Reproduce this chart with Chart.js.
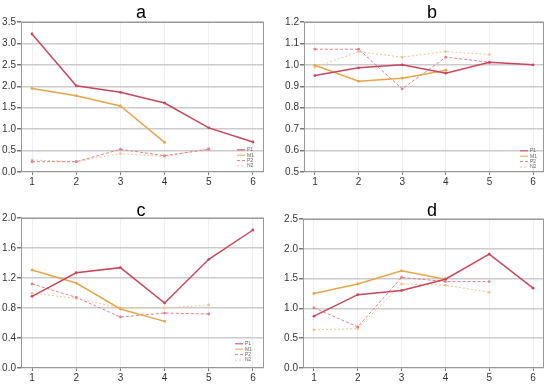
<!DOCTYPE html>
<html>
<head>
<meta charset="utf-8">
<script src="https://cdn.jsdelivr.net/npm/chart.js@4.4.0/dist/chart.umd.min.js"></script>
<style>
body { margin: 0; background: #fff; }
#wrap { position: relative; width: 550px; height: 385px; overflow: hidden; }
canvas { position: absolute; }
.ttl { position: absolute; width: 40px; text-align: center; font: 18px "Liberation Sans", Arial, sans-serif; line-height: 20px; color: #000; }
</style>
</head>
<body>
<div id="wrap">
  <canvas id="chartA" width="275" height="190" style="left:0;top:0"></canvas>
  <canvas id="chartB" width="275" height="190" style="left:275px;top:0"></canvas>
  <canvas id="chartC" width="275" height="195" style="left:0;top:190px"></canvas>
  <canvas id="chartD" width="275" height="195" style="left:275px;top:190px"></canvas>
  <div class="ttl" style="left:121px;top:2px">a</div>
  <div class="ttl" style="left:412px;top:2px">b</div>
  <div class="ttl" style="left:121px;top:200px">c</div>
  <div class="ttl" style="left:412px;top:200px">d</div>
</div>
<script>
//x positions shared by every panel
const xValues = [1, 2, 3, 4, 5, 6];
const seriesNames = ['P1', 'M1', 'P2', 'N2'];

//Panel a
const aP1 = [3.22, 2.01, 1.86, 1.61, 1.03, 0.70];
const aM1 = [1.95, 1.78, 1.54, 0.69];
const aP2 = [0.24, 0.24, 0.53, 0.38, 0.53];
const aN2 = [0.28, 0.24, 0.43, 0.36, 0.55];
const aTicks = [0, 0.5, 1.0, 1.5, 2.0, 2.5, 3.0, 3.5];

//Panel b
const bP1 = [0.95, 0.986, 1.0, 0.961, 1.012, 1.0];
const bM1 = [0.998, 0.924, 0.938, 0.975];
const bP2 = [1.073, 1.073, 0.888, 1.036, 1.012];
const bN2 = [0.989, 1.061, 1.036, 1.062, 1.048];
const bTicks = [0.5, 0.6, 0.7, 0.8, 0.9, 1.0, 1.1, 1.2];

//Panel c
const cP1 = [0.956, 1.27, 1.338, 0.867, 1.449, 1.84];
const cM1 = [1.307, 1.133, 0.787, 0.622];
const cP2 = [1.12, 0.942, 0.68, 0.733, 0.72];
const cN2 = [0.996, 0.929, 0.8, 0.8, 0.84];
const cTicks = [0, 0.4, 0.8, 1.2, 1.6, 2.0];

//Panel d
const dP1 = [0.87, 1.23, 1.30, 1.49, 1.91, 1.34];
const dM1 = [1.25, 1.41, 1.63, 1.49];
const dP2 = [1.01, 0.69, 1.52, 1.45, 1.45];
const dN2 = [0.64, 0.66, 1.41, 1.39, 1.27];
const dTicks = [0, 0.5, 1.0, 1.5, 2.0, 2.5];

const FONT = '"Liberation Sans", Arial, sans-serif';
const seriesStyle = [
    { color: '#c9475c', width: 1.5, dash: [] },
    { color: '#e5a64a', width: 1.5, dash: [] },
    { color: '#e27d8e', width: 1, dash: [3, 2] },
    { color: '#f2c48e', width: 1, dash: [2, 2] }
];

//Grey frame round the plot area
const frame = {
    id: 'frame',
    afterDraw(chart) {
        const { ctx, chartArea } = chart;
        ctx.save();
        ctx.strokeStyle = '#999';
        ctx.lineWidth = 1;
        ctx.strokeRect(chartArea.left + 0.5, chartArea.top + 0.5,
            chartArea.right - chartArea.left - 1, chartArea.bottom - chartArea.top - 1);
        ctx.restore();
    }
};

//Tiny legend in the lower right corner of the plot area
const miniLegend = {
    id: 'miniLegend',
    afterDatasetsDraw(chart, args, opts) {
        if (!opts.show) return;
        const { ctx, chartArea } = chart;
        ctx.save();
        ctx.font = '5px ' + FONT;
        ctx.textBaseline = 'middle';
        chart.data.datasets.forEach((ds, i) => {
            const y = chartArea.bottom - opts.bottom - (3 - i) * 5.4;
            const x = chartArea.right - opts.right;
            ctx.strokeStyle = ds.borderColor;
            ctx.lineWidth = 1;
            ctx.setLineDash(ds.borderDash);
            ctx.beginPath();
            ctx.moveTo(x, y);
            ctx.lineTo(x + 8, y);
            ctx.stroke();
            ctx.fillStyle = '#666';
            ctx.fillText(ds.label, x + 10, y);
        });
        ctx.restore();
    }
};

function makePanel(id, series, yTicks, box, legend) {
    let datasets = series.map((values, i) => ({
        label: seriesNames[i],
        data: values.map((v, j) => ({ x: xValues[j], y: v })),
        borderColor: seriesStyle[i].color,
        backgroundColor: seriesStyle[i].color,
        borderWidth: seriesStyle[i].width,
        borderDash: seriesStyle[i].dash,
        pointRadius: 1.4,
        pointBorderWidth: 0,
        pointBackgroundColor: seriesStyle[i].color,
        tension: 0
    }));

    new Chart(document.getElementById(id), {
        type: 'line',
        data: { datasets: datasets },
        options: {
            responsive: false,
            animation: false,
            devicePixelRatio: 1,
            layout: { padding: { top: box.top, right: box.right, left: 0, bottom: 0 } },
            plugins: {
                legend: { display: false },
                tooltip: { enabled: false },
                miniLegend: legend
            },
            scales: {
                x: {
                    type: 'linear',
                    min: 0.75,
                    max: 6.25,
                    afterBuildTicks: (s) => { s.ticks = xValues.map(v => ({ value: v })); },
                    afterFit: (s) => { s.height = box.xh; },
                    grid: { color: '#efefef', lineWidth: 1, tickLength: 3, tickColor: '#777' },
                    border: { display: false },
                    ticks: { font: { size: 10, family: FONT }, color: '#333', padding: 1, maxRotation: 0 }
                },
                y: {
                    min: yTicks[0],
                    max: yTicks[yTicks.length - 1],
                    afterBuildTicks: (s) => { s.ticks = yTicks.map(v => ({ value: v })); },
                    afterFit: (s) => { s.width = box.yw; },
                    grid: { color: '#cbcbcb', lineWidth: 1.5, tickLength: 4, tickColor: '#777' },
                    border: { display: false },
                    ticks: {
                        font: { size: 10, family: FONT },
                        color: '#333',
                        padding: 1,
                        callback: (v) => Number(v).toFixed(1)
                    }
                }
            }
        },
        plugins: [frame, miniLegend]
    });
}

makePanel('chartA', [aP1, aM1, aP2, aN2], aTicks,
    { top: 22, right: 11, xh: 18, yw: 21 }, { show: true, right: 27, bottom: 6 });
makePanel('chartB', [bP1, bM1, bP2, bN2], bTicks,
    { top: 22, right: 6, xh: 18, yw: 29 }, { show: true, right: 24, bottom: 5 });
makePanel('chartC', [cP1, cM1, cP2, cN2], cTicks,
    { top: 28, right: 11, xh: 17, yw: 21 }, { show: true, right: 29, bottom: 8 });
makePanel('chartD', [dP1, dM1, dP2, dN2], dTicks,
    { top: 29, right: 6, xh: 17, yw: 28 }, { show: false });
</script>
</body>
</html>
